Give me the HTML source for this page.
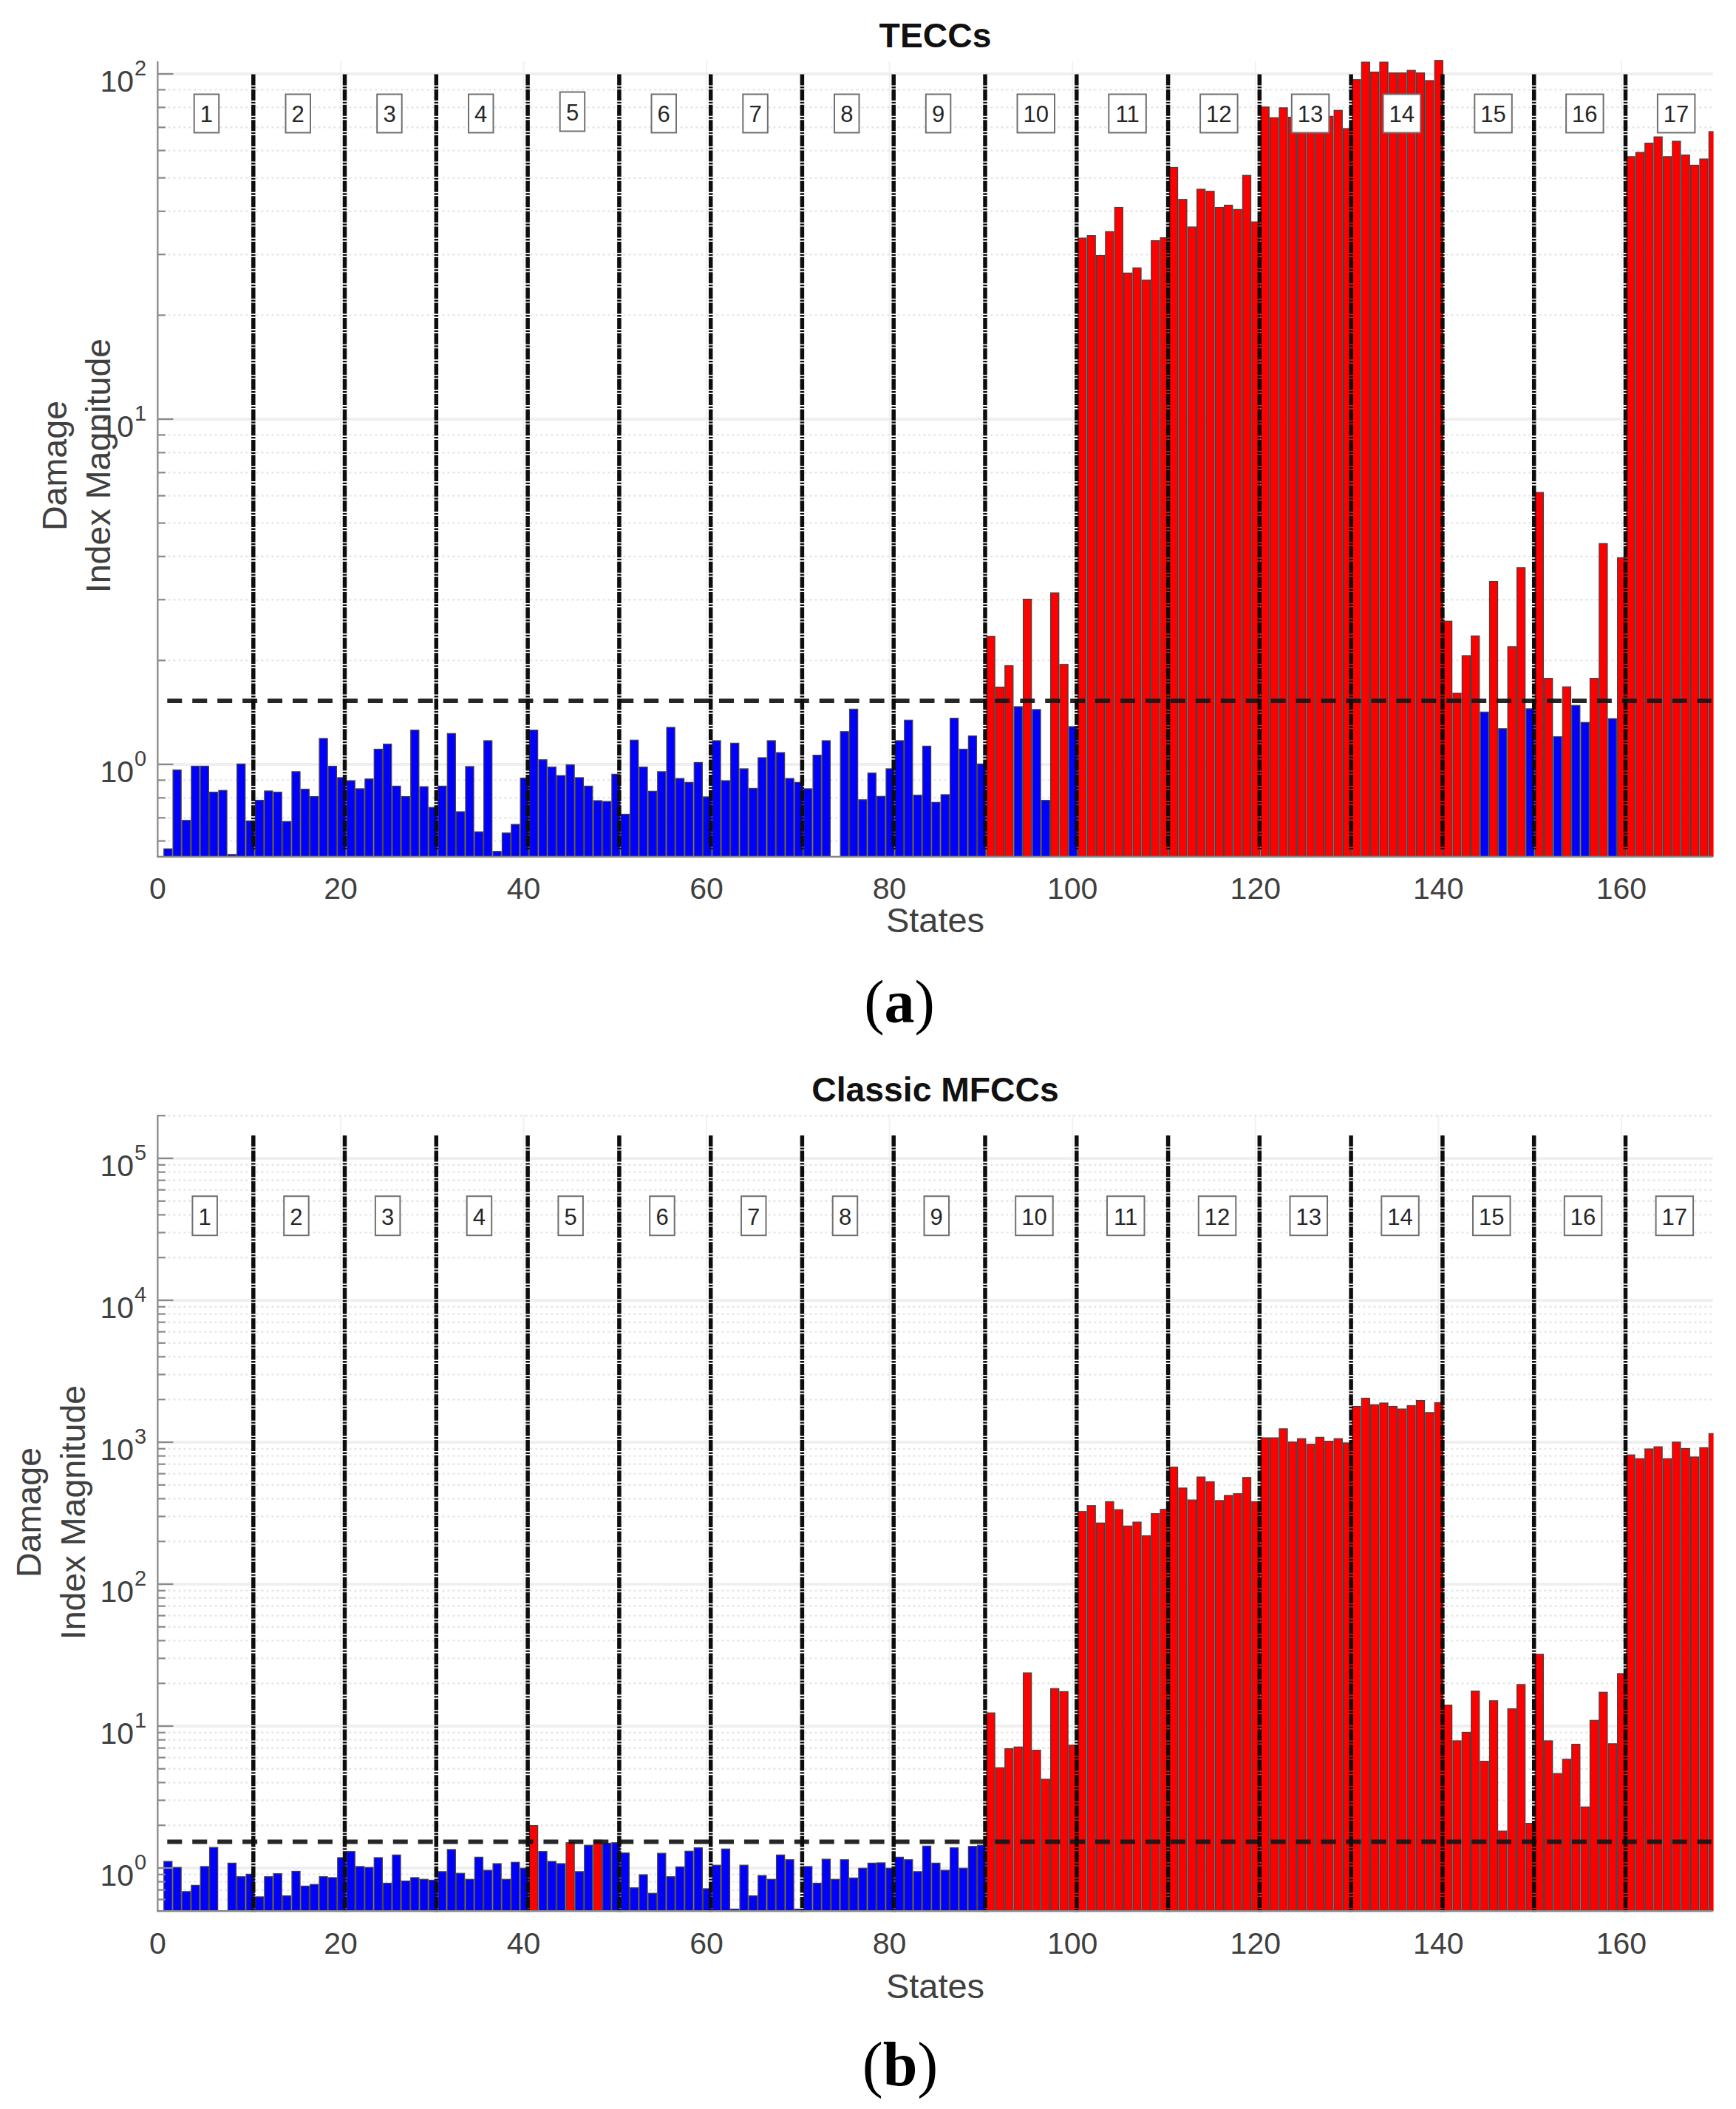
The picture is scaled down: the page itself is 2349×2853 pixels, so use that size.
<!DOCTYPE html>
<html lang="en">
<head>
<meta charset="utf-8">
<title>Damage Index Magnitude - TECCs vs Classic MFCCs</title>
<style>
html,body{margin:0;padding:0;background:#ffffff;}
body{width:2349px;height:2853px;overflow:hidden;}
svg{display:block;}
</style>
</head>
<body>
<svg width="2349" height="2853" viewBox="0 0 2349 2853">
<rect x="0" y="0" width="2349" height="2853" fill="#ffffff"/>
<g id="chart1">
<clipPath id="clip1"><rect x="213.4" y="81.0" width="2105.2" height="1078.0"/></clipPath>
<line x1="461.0" y1="83.0" x2="461.0" y2="1159.0" stroke="#f1f1f1" stroke-width="2"/>
<line x1="708.5" y1="83.0" x2="708.5" y2="1159.0" stroke="#f1f1f1" stroke-width="2"/>
<line x1="956.1" y1="83.0" x2="956.1" y2="1159.0" stroke="#f1f1f1" stroke-width="2"/>
<line x1="1203.6" y1="83.0" x2="1203.6" y2="1159.0" stroke="#f1f1f1" stroke-width="2"/>
<line x1="1451.2" y1="83.0" x2="1451.2" y2="1159.0" stroke="#f1f1f1" stroke-width="2"/>
<line x1="1698.8" y1="83.0" x2="1698.8" y2="1159.0" stroke="#f1f1f1" stroke-width="2"/>
<line x1="1946.3" y1="83.0" x2="1946.3" y2="1159.0" stroke="#f1f1f1" stroke-width="2"/>
<line x1="2193.9" y1="83.0" x2="2193.9" y2="1159.0" stroke="#f1f1f1" stroke-width="2"/>
<line x1="213.4" y1="1137.6" x2="2317.7" y2="1137.6" stroke="#e6e6e6" stroke-width="2.4" stroke-dasharray="3 4"/>
<line x1="213.4" y1="1106.3" x2="2317.7" y2="1106.3" stroke="#e6e6e6" stroke-width="2.4" stroke-dasharray="3 4"/>
<line x1="213.4" y1="1079.3" x2="2317.7" y2="1079.3" stroke="#e6e6e6" stroke-width="2.4" stroke-dasharray="3 4"/>
<line x1="213.4" y1="1055.4" x2="2317.7" y2="1055.4" stroke="#e6e6e6" stroke-width="2.4" stroke-dasharray="3 4"/>
<line x1="213.4" y1="1034.0" x2="2317.7" y2="1034.0" stroke="#efefef" stroke-width="4"/>
<line x1="213.4" y1="893.4" x2="2317.7" y2="893.4" stroke="#e6e6e6" stroke-width="2.4" stroke-dasharray="3 4"/>
<line x1="213.4" y1="811.2" x2="2317.7" y2="811.2" stroke="#e6e6e6" stroke-width="2.4" stroke-dasharray="3 4"/>
<line x1="213.4" y1="752.8" x2="2317.7" y2="752.8" stroke="#e6e6e6" stroke-width="2.4" stroke-dasharray="3 4"/>
<line x1="213.4" y1="707.6" x2="2317.7" y2="707.6" stroke="#e6e6e6" stroke-width="2.4" stroke-dasharray="3 4"/>
<line x1="213.4" y1="670.6" x2="2317.7" y2="670.6" stroke="#e6e6e6" stroke-width="2.4" stroke-dasharray="3 4"/>
<line x1="213.4" y1="639.3" x2="2317.7" y2="639.3" stroke="#e6e6e6" stroke-width="2.4" stroke-dasharray="3 4"/>
<line x1="213.4" y1="612.3" x2="2317.7" y2="612.3" stroke="#e6e6e6" stroke-width="2.4" stroke-dasharray="3 4"/>
<line x1="213.4" y1="588.4" x2="2317.7" y2="588.4" stroke="#e6e6e6" stroke-width="2.4" stroke-dasharray="3 4"/>
<line x1="213.4" y1="567.0" x2="2317.7" y2="567.0" stroke="#efefef" stroke-width="4"/>
<line x1="213.4" y1="426.4" x2="2317.7" y2="426.4" stroke="#e6e6e6" stroke-width="2.4" stroke-dasharray="3 4"/>
<line x1="213.4" y1="344.2" x2="2317.7" y2="344.2" stroke="#e6e6e6" stroke-width="2.4" stroke-dasharray="3 4"/>
<line x1="213.4" y1="285.8" x2="2317.7" y2="285.8" stroke="#e6e6e6" stroke-width="2.4" stroke-dasharray="3 4"/>
<line x1="213.4" y1="240.6" x2="2317.7" y2="240.6" stroke="#e6e6e6" stroke-width="2.4" stroke-dasharray="3 4"/>
<line x1="213.4" y1="203.6" x2="2317.7" y2="203.6" stroke="#e6e6e6" stroke-width="2.4" stroke-dasharray="3 4"/>
<line x1="213.4" y1="172.3" x2="2317.7" y2="172.3" stroke="#e6e6e6" stroke-width="2.4" stroke-dasharray="3 4"/>
<line x1="213.4" y1="145.3" x2="2317.7" y2="145.3" stroke="#e6e6e6" stroke-width="2.4" stroke-dasharray="3 4"/>
<line x1="213.4" y1="121.4" x2="2317.7" y2="121.4" stroke="#e6e6e6" stroke-width="2.4" stroke-dasharray="3 4"/>
<line x1="213.4" y1="100.0" x2="2317.7" y2="100.0" stroke="#efefef" stroke-width="4"/>
<g clip-path="url(#clip1)" stroke="#454040" stroke-width="1.3">
<rect x="221.8" y="1148.3" width="11.0" height="15.3" fill="#0000ff"/>
<rect x="234.1" y="1041.6" width="11.0" height="122.0" fill="#0000ff"/>
<rect x="246.5" y="1109.8" width="11.0" height="53.8" fill="#0000ff"/>
<rect x="258.9" y="1036.5" width="11.0" height="127.1" fill="#0000ff"/>
<rect x="271.3" y="1036.5" width="11.0" height="127.1" fill="#0000ff"/>
<rect x="283.6" y="1071.6" width="11.0" height="92.0" fill="#0000ff"/>
<rect x="296.0" y="1069.3" width="11.0" height="94.3" fill="#0000ff"/>
<rect x="308.4" y="1155.9" width="11.0" height="7.7" fill="#0000ff"/>
<rect x="320.7" y="1033.6" width="11.0" height="130.0" fill="#0000ff"/>
<rect x="333.1" y="1110.6" width="11.0" height="53.0" fill="#0000ff"/>
<rect x="345.5" y="1082.6" width="11.0" height="81.0" fill="#0000ff"/>
<rect x="357.9" y="1070.0" width="11.0" height="93.6" fill="#0000ff"/>
<rect x="370.2" y="1071.6" width="11.0" height="92.0" fill="#0000ff"/>
<rect x="382.6" y="1111.4" width="11.0" height="52.2" fill="#0000ff"/>
<rect x="395.0" y="1043.9" width="11.0" height="119.7" fill="#0000ff"/>
<rect x="407.3" y="1067.6" width="11.0" height="96.0" fill="#0000ff"/>
<rect x="419.7" y="1077.6" width="11.0" height="86.0" fill="#0000ff"/>
<rect x="432.1" y="999.0" width="11.0" height="164.6" fill="#0000ff"/>
<rect x="444.4" y="1036.6" width="11.0" height="127.0" fill="#0000ff"/>
<rect x="456.8" y="1052.0" width="11.0" height="111.6" fill="#0000ff"/>
<rect x="469.2" y="1056.1" width="11.0" height="107.5" fill="#0000ff"/>
<rect x="481.6" y="1067.0" width="11.0" height="96.6" fill="#0000ff"/>
<rect x="493.9" y="1053.8" width="11.0" height="109.8" fill="#0000ff"/>
<rect x="506.3" y="1013.5" width="11.0" height="150.1" fill="#0000ff"/>
<rect x="518.7" y="1006.6" width="11.0" height="157.0" fill="#0000ff"/>
<rect x="531.0" y="1063.5" width="11.0" height="100.1" fill="#0000ff"/>
<rect x="543.4" y="1077.6" width="11.0" height="86.0" fill="#0000ff"/>
<rect x="555.8" y="987.7" width="11.0" height="175.9" fill="#0000ff"/>
<rect x="568.1" y="1064.2" width="11.0" height="99.4" fill="#0000ff"/>
<rect x="580.5" y="1092.3" width="11.0" height="71.3" fill="#0000ff"/>
<rect x="592.9" y="1063.5" width="11.0" height="100.1" fill="#0000ff"/>
<rect x="605.3" y="992.3" width="11.0" height="171.3" fill="#0000ff"/>
<rect x="617.6" y="1098.1" width="11.0" height="65.5" fill="#0000ff"/>
<rect x="630.0" y="1037.0" width="11.0" height="126.6" fill="#0000ff"/>
<rect x="642.4" y="1125.3" width="11.0" height="38.3" fill="#0000ff"/>
<rect x="654.7" y="1002.0" width="11.0" height="161.6" fill="#0000ff"/>
<rect x="667.1" y="1151.8" width="11.0" height="11.8" fill="#0000ff"/>
<rect x="679.5" y="1126.9" width="11.0" height="36.7" fill="#0000ff"/>
<rect x="691.8" y="1115.3" width="11.0" height="48.3" fill="#0000ff"/>
<rect x="704.2" y="1052.6" width="11.0" height="111.0" fill="#0000ff"/>
<rect x="716.6" y="987.7" width="11.0" height="175.9" fill="#0000ff"/>
<rect x="729.0" y="1027.8" width="11.0" height="135.8" fill="#0000ff"/>
<rect x="741.3" y="1037.7" width="11.0" height="125.9" fill="#0000ff"/>
<rect x="753.7" y="1049.2" width="11.0" height="114.4" fill="#0000ff"/>
<rect x="766.1" y="1034.7" width="11.0" height="128.9" fill="#0000ff"/>
<rect x="778.4" y="1052.0" width="11.0" height="111.6" fill="#0000ff"/>
<rect x="790.8" y="1063.5" width="11.0" height="100.1" fill="#0000ff"/>
<rect x="803.2" y="1083.1" width="11.0" height="80.5" fill="#0000ff"/>
<rect x="815.6" y="1084.2" width="11.0" height="79.4" fill="#0000ff"/>
<rect x="827.9" y="1047.4" width="11.0" height="116.2" fill="#0000ff"/>
<rect x="840.3" y="1101.5" width="11.0" height="62.1" fill="#0000ff"/>
<rect x="852.7" y="1001.3" width="11.0" height="162.3" fill="#0000ff"/>
<rect x="865.0" y="1037.7" width="11.0" height="125.9" fill="#0000ff"/>
<rect x="877.4" y="1070.4" width="11.0" height="93.2" fill="#0000ff"/>
<rect x="889.8" y="1043.9" width="11.0" height="119.7" fill="#0000ff"/>
<rect x="902.1" y="984.0" width="11.0" height="179.6" fill="#0000ff"/>
<rect x="914.5" y="1053.1" width="11.0" height="110.5" fill="#0000ff"/>
<rect x="926.9" y="1058.4" width="11.0" height="105.2" fill="#0000ff"/>
<rect x="939.3" y="1031.5" width="11.0" height="132.1" fill="#0000ff"/>
<rect x="951.6" y="1078.0" width="11.0" height="85.6" fill="#0000ff"/>
<rect x="964.0" y="1002.0" width="11.0" height="161.6" fill="#0000ff"/>
<rect x="976.4" y="1056.1" width="11.0" height="107.5" fill="#0000ff"/>
<rect x="988.7" y="1005.4" width="11.0" height="158.2" fill="#0000ff"/>
<rect x="1001.1" y="1040.0" width="11.0" height="123.6" fill="#0000ff"/>
<rect x="1013.5" y="1066.5" width="11.0" height="97.1" fill="#0000ff"/>
<rect x="1025.8" y="1025.0" width="11.0" height="138.6" fill="#0000ff"/>
<rect x="1038.2" y="1002.0" width="11.0" height="161.6" fill="#0000ff"/>
<rect x="1050.6" y="1018.1" width="11.0" height="145.5" fill="#0000ff"/>
<rect x="1063.0" y="1053.1" width="11.0" height="110.5" fill="#0000ff"/>
<rect x="1075.3" y="1058.4" width="11.0" height="105.2" fill="#0000ff"/>
<rect x="1087.7" y="1067.0" width="11.0" height="96.6" fill="#0000ff"/>
<rect x="1100.1" y="1021.6" width="11.0" height="142.0" fill="#0000ff"/>
<rect x="1112.4" y="1002.0" width="11.0" height="161.6" fill="#0000ff"/>
<rect x="1137.2" y="989.8" width="11.0" height="173.8" fill="#0000ff"/>
<rect x="1149.6" y="959.4" width="11.0" height="204.2" fill="#0000ff"/>
<rect x="1161.9" y="1081.9" width="11.0" height="81.7" fill="#0000ff"/>
<rect x="1174.3" y="1045.8" width="11.0" height="117.8" fill="#0000ff"/>
<rect x="1186.7" y="1077.3" width="11.0" height="86.3" fill="#0000ff"/>
<rect x="1199.0" y="1040.0" width="11.0" height="123.6" fill="#0000ff"/>
<rect x="1211.4" y="1002.0" width="11.0" height="161.6" fill="#0000ff"/>
<rect x="1223.8" y="974.3" width="11.0" height="189.3" fill="#0000ff"/>
<rect x="1236.1" y="1075.7" width="11.0" height="87.9" fill="#0000ff"/>
<rect x="1248.5" y="1009.4" width="11.0" height="154.2" fill="#0000ff"/>
<rect x="1260.9" y="1085.4" width="11.0" height="78.2" fill="#0000ff"/>
<rect x="1273.3" y="1075.0" width="11.0" height="88.6" fill="#0000ff"/>
<rect x="1285.6" y="971.6" width="11.0" height="192.0" fill="#0000ff"/>
<rect x="1298.0" y="1013.5" width="11.0" height="150.1" fill="#0000ff"/>
<rect x="1310.4" y="995.5" width="11.0" height="168.1" fill="#0000ff"/>
<rect x="1322.7" y="1033.6" width="11.0" height="130.0" fill="#0000ff"/>
<rect x="1335.1" y="860.8" width="11.0" height="302.8" fill="#ff0000"/>
<rect x="1347.5" y="929.5" width="11.0" height="234.1" fill="#ff0000"/>
<rect x="1359.8" y="900.5" width="11.0" height="263.1" fill="#ff0000"/>
<rect x="1372.2" y="956.0" width="11.0" height="207.6" fill="#0000ff"/>
<rect x="1384.6" y="810.6" width="11.0" height="353.0" fill="#ff0000"/>
<rect x="1397.0" y="959.9" width="11.0" height="203.7" fill="#0000ff"/>
<rect x="1409.3" y="1082.7" width="11.0" height="80.9" fill="#0000ff"/>
<rect x="1421.7" y="802.1" width="11.0" height="361.5" fill="#ff0000"/>
<rect x="1434.1" y="898.8" width="11.0" height="264.8" fill="#ff0000"/>
<rect x="1446.4" y="983.0" width="11.0" height="180.6" fill="#0000ff"/>
<rect x="1458.8" y="322.1" width="11.0" height="841.5" fill="#ff0000"/>
<rect x="1471.2" y="318.7" width="11.0" height="844.9" fill="#ff0000"/>
<rect x="1483.5" y="345.6" width="11.0" height="818.0" fill="#ff0000"/>
<rect x="1495.9" y="313.4" width="11.0" height="850.2" fill="#ff0000"/>
<rect x="1508.3" y="280.6" width="11.0" height="883.0" fill="#ff0000"/>
<rect x="1520.7" y="369.4" width="11.0" height="794.2" fill="#ff0000"/>
<rect x="1533.0" y="362.4" width="11.0" height="801.2" fill="#ff0000"/>
<rect x="1545.4" y="379.0" width="11.0" height="784.6" fill="#ff0000"/>
<rect x="1557.8" y="325.6" width="11.0" height="838.0" fill="#ff0000"/>
<rect x="1570.1" y="321.6" width="11.0" height="842.0" fill="#ff0000"/>
<rect x="1582.5" y="226.5" width="11.0" height="937.1" fill="#ff0000"/>
<rect x="1594.9" y="269.8" width="11.0" height="893.8" fill="#ff0000"/>
<rect x="1607.3" y="307.1" width="11.0" height="856.5" fill="#ff0000"/>
<rect x="1619.6" y="256.0" width="11.0" height="907.6" fill="#ff0000"/>
<rect x="1632.0" y="258.8" width="11.0" height="904.8" fill="#ff0000"/>
<rect x="1644.4" y="280.6" width="11.0" height="883.0" fill="#ff0000"/>
<rect x="1656.7" y="277.6" width="11.0" height="886.0" fill="#ff0000"/>
<rect x="1669.1" y="283.4" width="11.0" height="880.2" fill="#ff0000"/>
<rect x="1681.5" y="237.3" width="11.0" height="926.3" fill="#ff0000"/>
<rect x="1693.8" y="300.2" width="11.0" height="863.4" fill="#ff0000"/>
<rect x="1706.2" y="144.7" width="11.0" height="1018.9" fill="#ff0000"/>
<rect x="1718.6" y="159.2" width="11.0" height="1004.4" fill="#ff0000"/>
<rect x="1731.0" y="145.9" width="11.0" height="1017.7" fill="#ff0000"/>
<rect x="1743.3" y="158.6" width="11.0" height="1005.0" fill="#ff0000"/>
<rect x="1755.7" y="150.6" width="11.0" height="1013.0" fill="#ff0000"/>
<rect x="1768.1" y="155.6" width="11.0" height="1008.0" fill="#ff0000"/>
<rect x="1780.4" y="150.6" width="11.0" height="1013.0" fill="#ff0000"/>
<rect x="1792.8" y="157.4" width="11.0" height="1006.2" fill="#ff0000"/>
<rect x="1805.2" y="149.3" width="11.0" height="1014.3" fill="#ff0000"/>
<rect x="1817.5" y="174.0" width="11.0" height="989.6" fill="#ff0000"/>
<rect x="1829.9" y="107.8" width="11.0" height="1055.8" fill="#ff0000"/>
<rect x="1842.3" y="84.1" width="11.0" height="1079.5" fill="#ff0000"/>
<rect x="1854.7" y="97.5" width="11.0" height="1066.1" fill="#ff0000"/>
<rect x="1867.0" y="84.1" width="11.0" height="1079.5" fill="#ff0000"/>
<rect x="1879.4" y="98.6" width="11.0" height="1065.0" fill="#ff0000"/>
<rect x="1891.8" y="98.6" width="11.0" height="1065.0" fill="#ff0000"/>
<rect x="1904.1" y="95.2" width="11.0" height="1068.4" fill="#ff0000"/>
<rect x="1916.5" y="98.6" width="11.0" height="1065.0" fill="#ff0000"/>
<rect x="1928.9" y="109.0" width="11.0" height="1054.6" fill="#ff0000"/>
<rect x="1941.3" y="81.8" width="11.0" height="1081.8" fill="#ff0000"/>
<rect x="1953.6" y="840.3" width="11.0" height="323.3" fill="#ff0000"/>
<rect x="1966.0" y="937.7" width="11.0" height="225.9" fill="#ff0000"/>
<rect x="1978.4" y="887.0" width="11.0" height="276.6" fill="#ff0000"/>
<rect x="1990.7" y="860.3" width="11.0" height="303.3" fill="#ff0000"/>
<rect x="2003.1" y="963.3" width="11.0" height="200.3" fill="#0000ff"/>
<rect x="2015.5" y="786.6" width="11.0" height="377.0" fill="#ff0000"/>
<rect x="2027.8" y="985.8" width="11.0" height="177.8" fill="#0000ff"/>
<rect x="2040.2" y="874.9" width="11.0" height="288.7" fill="#ff0000"/>
<rect x="2052.6" y="767.9" width="11.0" height="395.7" fill="#ff0000"/>
<rect x="2065.0" y="958.9" width="11.0" height="204.7" fill="#0000ff"/>
<rect x="2077.3" y="666.2" width="11.0" height="497.4" fill="#ff0000"/>
<rect x="2089.7" y="917.7" width="11.0" height="245.9" fill="#ff0000"/>
<rect x="2102.1" y="996.6" width="11.0" height="167.0" fill="#0000ff"/>
<rect x="2114.4" y="929.2" width="11.0" height="234.4" fill="#ff0000"/>
<rect x="2126.8" y="954.3" width="11.0" height="209.3" fill="#0000ff"/>
<rect x="2139.2" y="977.3" width="11.0" height="186.3" fill="#0000ff"/>
<rect x="2151.5" y="917.7" width="11.0" height="245.9" fill="#ff0000"/>
<rect x="2163.9" y="735.4" width="11.0" height="428.2" fill="#ff0000"/>
<rect x="2176.3" y="972.2" width="11.0" height="191.4" fill="#0000ff"/>
<rect x="2188.7" y="754.6" width="11.0" height="409.0" fill="#ff0000"/>
<rect x="2201.0" y="211.9" width="11.0" height="951.7" fill="#ff0000"/>
<rect x="2213.4" y="206.2" width="11.0" height="957.4" fill="#ff0000"/>
<rect x="2225.8" y="193.7" width="11.0" height="969.9" fill="#ff0000"/>
<rect x="2238.1" y="185.2" width="11.0" height="978.4" fill="#ff0000"/>
<rect x="2250.5" y="211.9" width="11.0" height="951.7" fill="#ff0000"/>
<rect x="2262.9" y="191.1" width="11.0" height="972.5" fill="#ff0000"/>
<rect x="2275.2" y="209.8" width="11.0" height="953.8" fill="#ff0000"/>
<rect x="2287.6" y="223.5" width="11.0" height="940.1" fill="#ff0000"/>
<rect x="2300.0" y="215.1" width="11.0" height="948.5" fill="#ff0000"/>
<rect x="2312.4" y="178.1" width="11.0" height="985.5" fill="#ff0000"/>
</g>
<line x1="226.3" y1="948.0" x2="2315.7" y2="948.0" stroke="#151515" stroke-opacity="0.93" stroke-width="6" stroke-dasharray="20 13.94"/>
<line x1="342.8" y1="100.5" x2="342.8" y2="1149.0" stroke="#0d0d0d" stroke-width="5.5" stroke-dasharray="15 1.6 2.4 1.6"/>
<line x1="466.5" y1="100.5" x2="466.5" y2="1149.0" stroke="#0d0d0d" stroke-width="5.5" stroke-dasharray="15 1.6 2.4 1.6"/>
<line x1="590.3" y1="100.5" x2="590.3" y2="1149.0" stroke="#0d0d0d" stroke-width="5.5" stroke-dasharray="15 1.6 2.4 1.6"/>
<line x1="714.1" y1="100.5" x2="714.1" y2="1149.0" stroke="#0d0d0d" stroke-width="5.5" stroke-dasharray="15 1.6 2.4 1.6"/>
<line x1="837.9" y1="100.5" x2="837.9" y2="1149.0" stroke="#0d0d0d" stroke-width="5.5" stroke-dasharray="15 1.6 2.4 1.6"/>
<line x1="961.7" y1="100.5" x2="961.7" y2="1149.0" stroke="#0d0d0d" stroke-width="5.5" stroke-dasharray="15 1.6 2.4 1.6"/>
<line x1="1085.4" y1="100.5" x2="1085.4" y2="1149.0" stroke="#0d0d0d" stroke-width="5.5" stroke-dasharray="15 1.6 2.4 1.6"/>
<line x1="1209.2" y1="100.5" x2="1209.2" y2="1149.0" stroke="#0d0d0d" stroke-width="5.5" stroke-dasharray="15 1.6 2.4 1.6"/>
<line x1="1333.0" y1="100.5" x2="1333.0" y2="1149.0" stroke="#0d0d0d" stroke-width="5.5" stroke-dasharray="15 1.6 2.4 1.6"/>
<line x1="1456.8" y1="100.5" x2="1456.8" y2="1149.0" stroke="#0d0d0d" stroke-width="5.5" stroke-dasharray="15 1.6 2.4 1.6"/>
<line x1="1580.6" y1="100.5" x2="1580.6" y2="1149.0" stroke="#0d0d0d" stroke-width="5.5" stroke-dasharray="15 1.6 2.4 1.6"/>
<line x1="1704.3" y1="100.5" x2="1704.3" y2="1149.0" stroke="#0d0d0d" stroke-width="5.5" stroke-dasharray="15 1.6 2.4 1.6"/>
<line x1="1828.1" y1="100.5" x2="1828.1" y2="1149.0" stroke="#0d0d0d" stroke-width="5.5" stroke-dasharray="15 1.6 2.4 1.6"/>
<line x1="1951.9" y1="100.5" x2="1951.9" y2="1149.0" stroke="#0d0d0d" stroke-width="5.5" stroke-dasharray="15 1.6 2.4 1.6"/>
<line x1="2075.7" y1="100.5" x2="2075.7" y2="1149.0" stroke="#0d0d0d" stroke-width="5.5" stroke-dasharray="15 1.6 2.4 1.6"/>
<line x1="2199.5" y1="100.5" x2="2199.5" y2="1149.0" stroke="#0d0d0d" stroke-width="5.5" stroke-dasharray="15 1.6 2.4 1.6"/>
<line x1="213.4" y1="83.0" x2="213.4" y2="1160.0" stroke="#858585" stroke-width="2.2"/>
<line x1="212.4" y1="1159.0" x2="2317.7" y2="1159.0" stroke="#858585" stroke-width="2.6"/>
<line x1="213.4" y1="1137.6" x2="223.9" y2="1137.6" stroke="#8a8a8a" stroke-width="2.2"/>
<line x1="213.4" y1="1106.3" x2="223.9" y2="1106.3" stroke="#8a8a8a" stroke-width="2.2"/>
<line x1="213.4" y1="1079.3" x2="223.9" y2="1079.3" stroke="#8a8a8a" stroke-width="2.2"/>
<line x1="213.4" y1="1055.4" x2="223.9" y2="1055.4" stroke="#8a8a8a" stroke-width="2.2"/>
<line x1="213.4" y1="1034.0" x2="234.4" y2="1034.0" stroke="#8a8a8a" stroke-width="2.2"/>
<line x1="213.4" y1="893.4" x2="223.9" y2="893.4" stroke="#8a8a8a" stroke-width="2.2"/>
<line x1="213.4" y1="811.2" x2="223.9" y2="811.2" stroke="#8a8a8a" stroke-width="2.2"/>
<line x1="213.4" y1="752.8" x2="223.9" y2="752.8" stroke="#8a8a8a" stroke-width="2.2"/>
<line x1="213.4" y1="707.6" x2="223.9" y2="707.6" stroke="#8a8a8a" stroke-width="2.2"/>
<line x1="213.4" y1="670.6" x2="223.9" y2="670.6" stroke="#8a8a8a" stroke-width="2.2"/>
<line x1="213.4" y1="639.3" x2="223.9" y2="639.3" stroke="#8a8a8a" stroke-width="2.2"/>
<line x1="213.4" y1="612.3" x2="223.9" y2="612.3" stroke="#8a8a8a" stroke-width="2.2"/>
<line x1="213.4" y1="588.4" x2="223.9" y2="588.4" stroke="#8a8a8a" stroke-width="2.2"/>
<line x1="213.4" y1="567.0" x2="234.4" y2="567.0" stroke="#8a8a8a" stroke-width="2.2"/>
<line x1="213.4" y1="426.4" x2="223.9" y2="426.4" stroke="#8a8a8a" stroke-width="2.2"/>
<line x1="213.4" y1="344.2" x2="223.9" y2="344.2" stroke="#8a8a8a" stroke-width="2.2"/>
<line x1="213.4" y1="285.8" x2="223.9" y2="285.8" stroke="#8a8a8a" stroke-width="2.2"/>
<line x1="213.4" y1="240.6" x2="223.9" y2="240.6" stroke="#8a8a8a" stroke-width="2.2"/>
<line x1="213.4" y1="203.6" x2="223.9" y2="203.6" stroke="#8a8a8a" stroke-width="2.2"/>
<line x1="213.4" y1="172.3" x2="223.9" y2="172.3" stroke="#8a8a8a" stroke-width="2.2"/>
<line x1="213.4" y1="145.3" x2="223.9" y2="145.3" stroke="#8a8a8a" stroke-width="2.2"/>
<line x1="213.4" y1="121.4" x2="223.9" y2="121.4" stroke="#8a8a8a" stroke-width="2.2"/>
<line x1="213.4" y1="100.0" x2="234.4" y2="100.0" stroke="#8a8a8a" stroke-width="2.2"/>
<text x="181" y="1058.0" text-anchor="end" font-family="'Liberation Sans', Arial, sans-serif" font-size="41" fill="#404040">10</text>
<text x="182" y="1036.0" text-anchor="start" font-family="'Liberation Sans', Arial, sans-serif" font-size="29" fill="#404040">0</text>
<text x="181" y="591.0" text-anchor="end" font-family="'Liberation Sans', Arial, sans-serif" font-size="41" fill="#404040">10</text>
<text x="182" y="569.0" text-anchor="start" font-family="'Liberation Sans', Arial, sans-serif" font-size="29" fill="#404040">1</text>
<text x="181" y="124.0" text-anchor="end" font-family="'Liberation Sans', Arial, sans-serif" font-size="41" fill="#404040">10</text>
<text x="182" y="102.0" text-anchor="start" font-family="'Liberation Sans', Arial, sans-serif" font-size="29" fill="#404040">2</text>
<text x="213.4" y="1216.0" text-anchor="middle" font-family="'Liberation Sans', Arial, sans-serif" font-size="41" fill="#404040">0</text>
<text x="461.0" y="1216.0" text-anchor="middle" font-family="'Liberation Sans', Arial, sans-serif" font-size="41" fill="#404040">20</text>
<text x="708.5" y="1216.0" text-anchor="middle" font-family="'Liberation Sans', Arial, sans-serif" font-size="41" fill="#404040">40</text>
<text x="956.1" y="1216.0" text-anchor="middle" font-family="'Liberation Sans', Arial, sans-serif" font-size="41" fill="#404040">60</text>
<text x="1203.6" y="1216.0" text-anchor="middle" font-family="'Liberation Sans', Arial, sans-serif" font-size="41" fill="#404040">80</text>
<text x="1451.2" y="1216.0" text-anchor="middle" font-family="'Liberation Sans', Arial, sans-serif" font-size="41" fill="#404040">100</text>
<text x="1698.8" y="1216.0" text-anchor="middle" font-family="'Liberation Sans', Arial, sans-serif" font-size="41" fill="#404040">120</text>
<text x="1946.3" y="1216.0" text-anchor="middle" font-family="'Liberation Sans', Arial, sans-serif" font-size="41" fill="#404040">140</text>
<text x="2193.9" y="1216.0" text-anchor="middle" font-family="'Liberation Sans', Arial, sans-serif" font-size="41" fill="#404040">160</text>
<text x="1265.5" y="1260.5" text-anchor="middle" font-family="'Liberation Sans', Arial, sans-serif" font-size="47" fill="#404040">States</text>
<text transform="translate(90.0,630.0) rotate(-90)" text-anchor="middle" font-family="'Liberation Sans', Arial, sans-serif" font-size="46.6" fill="#404040">Damage</text>
<text transform="translate(149.0,630.0) rotate(-90)" text-anchor="middle" font-family="'Liberation Sans', Arial, sans-serif" font-size="46.6" fill="#404040">Index Magnitude</text>
<text x="1265.5" y="63.5" text-anchor="middle" font-family="'Liberation Sans', Arial, sans-serif" font-size="46.3" font-weight="bold" fill="#111111">TECCs</text>
<rect x="262.7" y="127.5" width="33.5" height="52.0" fill="#ffffff" stroke="#707070" stroke-width="2"/>
<text x="279.4" y="165.0" text-anchor="middle" font-family="'Liberation Sans', Arial, sans-serif" font-size="31" fill="#262626">1</text>
<rect x="386.5" y="127.5" width="33.5" height="52.0" fill="#ffffff" stroke="#707070" stroke-width="2"/>
<text x="403.2" y="165.0" text-anchor="middle" font-family="'Liberation Sans', Arial, sans-serif" font-size="31" fill="#262626">2</text>
<rect x="510.2" y="127.5" width="33.5" height="52.0" fill="#ffffff" stroke="#707070" stroke-width="2"/>
<text x="527.0" y="165.0" text-anchor="middle" font-family="'Liberation Sans', Arial, sans-serif" font-size="31" fill="#262626">3</text>
<rect x="634.0" y="127.5" width="33.5" height="52.0" fill="#ffffff" stroke="#707070" stroke-width="2"/>
<text x="650.7" y="165.0" text-anchor="middle" font-family="'Liberation Sans', Arial, sans-serif" font-size="31" fill="#262626">4</text>
<rect x="757.7" y="124.5" width="33.5" height="53.0" fill="#ffffff" stroke="#707070" stroke-width="2"/>
<text x="774.5" y="163.0" text-anchor="middle" font-family="'Liberation Sans', Arial, sans-serif" font-size="31" fill="#262626">5</text>
<rect x="881.5" y="127.5" width="33.5" height="52.0" fill="#ffffff" stroke="#707070" stroke-width="2"/>
<text x="898.2" y="165.0" text-anchor="middle" font-family="'Liberation Sans', Arial, sans-serif" font-size="31" fill="#262626">6</text>
<rect x="1005.3" y="127.5" width="33.5" height="52.0" fill="#ffffff" stroke="#707070" stroke-width="2"/>
<text x="1022.0" y="165.0" text-anchor="middle" font-family="'Liberation Sans', Arial, sans-serif" font-size="31" fill="#262626">7</text>
<rect x="1129.0" y="127.5" width="33.5" height="52.0" fill="#ffffff" stroke="#707070" stroke-width="2"/>
<text x="1145.8" y="165.0" text-anchor="middle" font-family="'Liberation Sans', Arial, sans-serif" font-size="31" fill="#262626">8</text>
<rect x="1252.8" y="127.5" width="33.5" height="52.0" fill="#ffffff" stroke="#707070" stroke-width="2"/>
<text x="1269.5" y="165.0" text-anchor="middle" font-family="'Liberation Sans', Arial, sans-serif" font-size="31" fill="#262626">9</text>
<rect x="1376.5" y="127.5" width="50.5" height="52.0" fill="#ffffff" stroke="#707070" stroke-width="2"/>
<text x="1401.8" y="165.0" text-anchor="middle" font-family="'Liberation Sans', Arial, sans-serif" font-size="31" fill="#262626">10</text>
<rect x="1500.3" y="127.5" width="50.5" height="52.0" fill="#ffffff" stroke="#707070" stroke-width="2"/>
<text x="1525.6" y="165.0" text-anchor="middle" font-family="'Liberation Sans', Arial, sans-serif" font-size="31" fill="#262626">11</text>
<rect x="1624.1" y="127.5" width="50.5" height="52.0" fill="#ffffff" stroke="#707070" stroke-width="2"/>
<text x="1649.3" y="165.0" text-anchor="middle" font-family="'Liberation Sans', Arial, sans-serif" font-size="31" fill="#262626">12</text>
<rect x="1747.8" y="127.5" width="50.5" height="52.0" fill="#ffffff" stroke="#707070" stroke-width="2"/>
<text x="1773.1" y="165.0" text-anchor="middle" font-family="'Liberation Sans', Arial, sans-serif" font-size="31" fill="#262626">13</text>
<rect x="1871.6" y="127.5" width="50.5" height="52.0" fill="#ffffff" stroke="#707070" stroke-width="2"/>
<text x="1896.8" y="165.0" text-anchor="middle" font-family="'Liberation Sans', Arial, sans-serif" font-size="31" fill="#262626">14</text>
<rect x="1995.3" y="127.5" width="50.5" height="52.0" fill="#ffffff" stroke="#707070" stroke-width="2"/>
<text x="2020.6" y="165.0" text-anchor="middle" font-family="'Liberation Sans', Arial, sans-serif" font-size="31" fill="#262626">15</text>
<rect x="2119.1" y="127.5" width="50.5" height="52.0" fill="#ffffff" stroke="#707070" stroke-width="2"/>
<text x="2144.3" y="165.0" text-anchor="middle" font-family="'Liberation Sans', Arial, sans-serif" font-size="31" fill="#262626">16</text>
<rect x="2242.9" y="127.5" width="50.5" height="52.0" fill="#ffffff" stroke="#707070" stroke-width="2"/>
<text x="2268.1" y="165.0" text-anchor="middle" font-family="'Liberation Sans', Arial, sans-serif" font-size="31" fill="#262626">17</text>
</g>
<g id="chart2">
<clipPath id="clip2"><rect x="213.4" y="1508.0" width="2105.2" height="1077.3"/></clipPath>
<line x1="461.0" y1="1508.3" x2="461.0" y2="2585.3" stroke="#f1f1f1" stroke-width="2"/>
<line x1="708.5" y1="1508.3" x2="708.5" y2="2585.3" stroke="#f1f1f1" stroke-width="2"/>
<line x1="956.1" y1="1508.3" x2="956.1" y2="2585.3" stroke="#f1f1f1" stroke-width="2"/>
<line x1="1203.6" y1="1508.3" x2="1203.6" y2="2585.3" stroke="#f1f1f1" stroke-width="2"/>
<line x1="1451.2" y1="1508.3" x2="1451.2" y2="2585.3" stroke="#f1f1f1" stroke-width="2"/>
<line x1="1698.8" y1="1508.3" x2="1698.8" y2="2585.3" stroke="#f1f1f1" stroke-width="2"/>
<line x1="1946.3" y1="1508.3" x2="1946.3" y2="2585.3" stroke="#f1f1f1" stroke-width="2"/>
<line x1="2193.9" y1="1508.3" x2="2193.9" y2="2585.3" stroke="#f1f1f1" stroke-width="2"/>
<line x1="213.4" y1="2569.6" x2="2317.7" y2="2569.6" stroke="#e6e6e6" stroke-width="2.4" stroke-dasharray="3 4"/>
<line x1="213.4" y1="2556.7" x2="2317.7" y2="2556.7" stroke="#e6e6e6" stroke-width="2.4" stroke-dasharray="3 4"/>
<line x1="213.4" y1="2545.6" x2="2317.7" y2="2545.6" stroke="#e6e6e6" stroke-width="2.4" stroke-dasharray="3 4"/>
<line x1="213.4" y1="2535.8" x2="2317.7" y2="2535.8" stroke="#e6e6e6" stroke-width="2.4" stroke-dasharray="3 4"/>
<line x1="213.4" y1="2527.0" x2="2317.7" y2="2527.0" stroke="#efefef" stroke-width="4"/>
<line x1="213.4" y1="2469.2" x2="2317.7" y2="2469.2" stroke="#e6e6e6" stroke-width="2.4" stroke-dasharray="3 4"/>
<line x1="213.4" y1="2435.4" x2="2317.7" y2="2435.4" stroke="#e6e6e6" stroke-width="2.4" stroke-dasharray="3 4"/>
<line x1="213.4" y1="2411.4" x2="2317.7" y2="2411.4" stroke="#e6e6e6" stroke-width="2.4" stroke-dasharray="3 4"/>
<line x1="213.4" y1="2392.8" x2="2317.7" y2="2392.8" stroke="#e6e6e6" stroke-width="2.4" stroke-dasharray="3 4"/>
<line x1="213.4" y1="2377.6" x2="2317.7" y2="2377.6" stroke="#e6e6e6" stroke-width="2.4" stroke-dasharray="3 4"/>
<line x1="213.4" y1="2364.7" x2="2317.7" y2="2364.7" stroke="#e6e6e6" stroke-width="2.4" stroke-dasharray="3 4"/>
<line x1="213.4" y1="2353.6" x2="2317.7" y2="2353.6" stroke="#e6e6e6" stroke-width="2.4" stroke-dasharray="3 4"/>
<line x1="213.4" y1="2343.8" x2="2317.7" y2="2343.8" stroke="#e6e6e6" stroke-width="2.4" stroke-dasharray="3 4"/>
<line x1="213.4" y1="2335.0" x2="2317.7" y2="2335.0" stroke="#efefef" stroke-width="4"/>
<line x1="213.4" y1="2277.2" x2="2317.7" y2="2277.2" stroke="#e6e6e6" stroke-width="2.4" stroke-dasharray="3 4"/>
<line x1="213.4" y1="2243.4" x2="2317.7" y2="2243.4" stroke="#e6e6e6" stroke-width="2.4" stroke-dasharray="3 4"/>
<line x1="213.4" y1="2219.4" x2="2317.7" y2="2219.4" stroke="#e6e6e6" stroke-width="2.4" stroke-dasharray="3 4"/>
<line x1="213.4" y1="2200.8" x2="2317.7" y2="2200.8" stroke="#e6e6e6" stroke-width="2.4" stroke-dasharray="3 4"/>
<line x1="213.4" y1="2185.6" x2="2317.7" y2="2185.6" stroke="#e6e6e6" stroke-width="2.4" stroke-dasharray="3 4"/>
<line x1="213.4" y1="2172.7" x2="2317.7" y2="2172.7" stroke="#e6e6e6" stroke-width="2.4" stroke-dasharray="3 4"/>
<line x1="213.4" y1="2161.6" x2="2317.7" y2="2161.6" stroke="#e6e6e6" stroke-width="2.4" stroke-dasharray="3 4"/>
<line x1="213.4" y1="2151.8" x2="2317.7" y2="2151.8" stroke="#e6e6e6" stroke-width="2.4" stroke-dasharray="3 4"/>
<line x1="213.4" y1="2143.0" x2="2317.7" y2="2143.0" stroke="#efefef" stroke-width="4"/>
<line x1="213.4" y1="2085.2" x2="2317.7" y2="2085.2" stroke="#e6e6e6" stroke-width="2.4" stroke-dasharray="3 4"/>
<line x1="213.4" y1="2051.4" x2="2317.7" y2="2051.4" stroke="#e6e6e6" stroke-width="2.4" stroke-dasharray="3 4"/>
<line x1="213.4" y1="2027.4" x2="2317.7" y2="2027.4" stroke="#e6e6e6" stroke-width="2.4" stroke-dasharray="3 4"/>
<line x1="213.4" y1="2008.8" x2="2317.7" y2="2008.8" stroke="#e6e6e6" stroke-width="2.4" stroke-dasharray="3 4"/>
<line x1="213.4" y1="1993.6" x2="2317.7" y2="1993.6" stroke="#e6e6e6" stroke-width="2.4" stroke-dasharray="3 4"/>
<line x1="213.4" y1="1980.7" x2="2317.7" y2="1980.7" stroke="#e6e6e6" stroke-width="2.4" stroke-dasharray="3 4"/>
<line x1="213.4" y1="1969.6" x2="2317.7" y2="1969.6" stroke="#e6e6e6" stroke-width="2.4" stroke-dasharray="3 4"/>
<line x1="213.4" y1="1959.8" x2="2317.7" y2="1959.8" stroke="#e6e6e6" stroke-width="2.4" stroke-dasharray="3 4"/>
<line x1="213.4" y1="1951.0" x2="2317.7" y2="1951.0" stroke="#efefef" stroke-width="4"/>
<line x1="213.4" y1="1893.2" x2="2317.7" y2="1893.2" stroke="#e6e6e6" stroke-width="2.4" stroke-dasharray="3 4"/>
<line x1="213.4" y1="1859.4" x2="2317.7" y2="1859.4" stroke="#e6e6e6" stroke-width="2.4" stroke-dasharray="3 4"/>
<line x1="213.4" y1="1835.4" x2="2317.7" y2="1835.4" stroke="#e6e6e6" stroke-width="2.4" stroke-dasharray="3 4"/>
<line x1="213.4" y1="1816.8" x2="2317.7" y2="1816.8" stroke="#e6e6e6" stroke-width="2.4" stroke-dasharray="3 4"/>
<line x1="213.4" y1="1801.6" x2="2317.7" y2="1801.6" stroke="#e6e6e6" stroke-width="2.4" stroke-dasharray="3 4"/>
<line x1="213.4" y1="1788.7" x2="2317.7" y2="1788.7" stroke="#e6e6e6" stroke-width="2.4" stroke-dasharray="3 4"/>
<line x1="213.4" y1="1777.6" x2="2317.7" y2="1777.6" stroke="#e6e6e6" stroke-width="2.4" stroke-dasharray="3 4"/>
<line x1="213.4" y1="1767.8" x2="2317.7" y2="1767.8" stroke="#e6e6e6" stroke-width="2.4" stroke-dasharray="3 4"/>
<line x1="213.4" y1="1759.0" x2="2317.7" y2="1759.0" stroke="#efefef" stroke-width="4"/>
<line x1="213.4" y1="1701.2" x2="2317.7" y2="1701.2" stroke="#e6e6e6" stroke-width="2.4" stroke-dasharray="3 4"/>
<line x1="213.4" y1="1667.4" x2="2317.7" y2="1667.4" stroke="#e6e6e6" stroke-width="2.4" stroke-dasharray="3 4"/>
<line x1="213.4" y1="1643.4" x2="2317.7" y2="1643.4" stroke="#e6e6e6" stroke-width="2.4" stroke-dasharray="3 4"/>
<line x1="213.4" y1="1624.8" x2="2317.7" y2="1624.8" stroke="#e6e6e6" stroke-width="2.4" stroke-dasharray="3 4"/>
<line x1="213.4" y1="1609.6" x2="2317.7" y2="1609.6" stroke="#e6e6e6" stroke-width="2.4" stroke-dasharray="3 4"/>
<line x1="213.4" y1="1596.7" x2="2317.7" y2="1596.7" stroke="#e6e6e6" stroke-width="2.4" stroke-dasharray="3 4"/>
<line x1="213.4" y1="1585.6" x2="2317.7" y2="1585.6" stroke="#e6e6e6" stroke-width="2.4" stroke-dasharray="3 4"/>
<line x1="213.4" y1="1575.8" x2="2317.7" y2="1575.8" stroke="#e6e6e6" stroke-width="2.4" stroke-dasharray="3 4"/>
<line x1="213.4" y1="1567.0" x2="2317.7" y2="1567.0" stroke="#efefef" stroke-width="4"/>
<line x1="213.4" y1="1509.2" x2="2317.7" y2="1509.2" stroke="#e6e6e6" stroke-width="2.4" stroke-dasharray="3 4"/>
<g clip-path="url(#clip2)" stroke="#454040" stroke-width="1.3">
<rect x="221.8" y="2518.1" width="11.0" height="71.8" fill="#0000ff"/>
<rect x="234.1" y="2526.2" width="11.0" height="63.7" fill="#0000ff"/>
<rect x="246.5" y="2558.9" width="11.0" height="31.0" fill="#0000ff"/>
<rect x="258.9" y="2550.4" width="11.0" height="39.5" fill="#0000ff"/>
<rect x="271.3" y="2525.0" width="11.0" height="64.9" fill="#0000ff"/>
<rect x="283.6" y="2499.2" width="11.0" height="90.7" fill="#0000ff"/>
<rect x="308.4" y="2520.4" width="11.0" height="69.5" fill="#0000ff"/>
<rect x="320.7" y="2538.8" width="11.0" height="51.1" fill="#0000ff"/>
<rect x="333.1" y="2535.4" width="11.0" height="54.5" fill="#0000ff"/>
<rect x="345.5" y="2566.0" width="11.0" height="23.9" fill="#0000ff"/>
<rect x="357.9" y="2538.8" width="11.0" height="51.1" fill="#0000ff"/>
<rect x="370.2" y="2534.7" width="11.0" height="55.2" fill="#0000ff"/>
<rect x="382.6" y="2564.7" width="11.0" height="25.2" fill="#0000ff"/>
<rect x="395.0" y="2531.5" width="11.0" height="58.4" fill="#0000ff"/>
<rect x="407.3" y="2551.5" width="11.0" height="38.4" fill="#0000ff"/>
<rect x="419.7" y="2549.2" width="11.0" height="40.7" fill="#0000ff"/>
<rect x="432.1" y="2538.8" width="11.0" height="51.1" fill="#0000ff"/>
<rect x="444.4" y="2540.0" width="11.0" height="49.9" fill="#0000ff"/>
<rect x="456.8" y="2513.0" width="11.0" height="76.9" fill="#0000ff"/>
<rect x="469.2" y="2504.7" width="11.0" height="85.2" fill="#0000ff"/>
<rect x="481.6" y="2525.0" width="11.0" height="64.9" fill="#0000ff"/>
<rect x="493.9" y="2526.2" width="11.0" height="63.7" fill="#0000ff"/>
<rect x="506.3" y="2513.0" width="11.0" height="76.9" fill="#0000ff"/>
<rect x="518.7" y="2547.6" width="11.0" height="42.3" fill="#0000ff"/>
<rect x="531.0" y="2509.4" width="11.0" height="80.5" fill="#0000ff"/>
<rect x="543.4" y="2544.6" width="11.0" height="45.3" fill="#0000ff"/>
<rect x="555.8" y="2540.0" width="11.0" height="49.9" fill="#0000ff"/>
<rect x="568.1" y="2542.3" width="11.0" height="47.6" fill="#0000ff"/>
<rect x="580.5" y="2543.5" width="11.0" height="46.4" fill="#0000ff"/>
<rect x="592.9" y="2531.9" width="11.0" height="58.0" fill="#0000ff"/>
<rect x="605.3" y="2502.0" width="11.0" height="87.9" fill="#0000ff"/>
<rect x="617.6" y="2534.2" width="11.0" height="55.7" fill="#0000ff"/>
<rect x="630.0" y="2542.3" width="11.0" height="47.6" fill="#0000ff"/>
<rect x="642.4" y="2512.4" width="11.0" height="77.5" fill="#0000ff"/>
<rect x="654.7" y="2530.1" width="11.0" height="59.8" fill="#0000ff"/>
<rect x="667.1" y="2521.1" width="11.0" height="68.8" fill="#0000ff"/>
<rect x="679.5" y="2542.3" width="11.0" height="47.6" fill="#0000ff"/>
<rect x="691.8" y="2519.3" width="11.0" height="70.6" fill="#0000ff"/>
<rect x="704.2" y="2527.3" width="11.0" height="62.6" fill="#0000ff"/>
<rect x="716.6" y="2469.7" width="11.0" height="120.2" fill="#ff0000"/>
<rect x="729.0" y="2504.7" width="11.0" height="85.2" fill="#0000ff"/>
<rect x="741.3" y="2518.1" width="11.0" height="71.8" fill="#0000ff"/>
<rect x="753.7" y="2521.1" width="11.0" height="68.8" fill="#0000ff"/>
<rect x="766.1" y="2492.8" width="11.0" height="97.1" fill="#ff0000"/>
<rect x="778.4" y="2531.9" width="11.0" height="58.0" fill="#0000ff"/>
<rect x="790.8" y="2496.2" width="11.0" height="93.7" fill="#0000ff"/>
<rect x="803.2" y="2489.3" width="11.0" height="100.6" fill="#ff0000"/>
<rect x="815.6" y="2493.5" width="11.0" height="96.4" fill="#0000ff"/>
<rect x="827.9" y="2492.8" width="11.0" height="97.1" fill="#0000ff"/>
<rect x="840.3" y="2506.6" width="11.0" height="83.3" fill="#0000ff"/>
<rect x="852.7" y="2553.8" width="11.0" height="36.1" fill="#0000ff"/>
<rect x="865.0" y="2536.1" width="11.0" height="53.8" fill="#0000ff"/>
<rect x="877.4" y="2561.2" width="11.0" height="28.7" fill="#0000ff"/>
<rect x="889.8" y="2507.1" width="11.0" height="82.8" fill="#0000ff"/>
<rect x="902.1" y="2538.8" width="11.0" height="51.1" fill="#0000ff"/>
<rect x="914.5" y="2525.5" width="11.0" height="64.4" fill="#0000ff"/>
<rect x="926.9" y="2504.3" width="11.0" height="85.6" fill="#0000ff"/>
<rect x="939.3" y="2499.7" width="11.0" height="90.2" fill="#0000ff"/>
<rect x="951.6" y="2555.0" width="11.0" height="34.9" fill="#0000ff"/>
<rect x="964.0" y="2523.2" width="11.0" height="66.7" fill="#0000ff"/>
<rect x="976.4" y="2501.3" width="11.0" height="88.6" fill="#0000ff"/>
<rect x="988.7" y="2582.6" width="11.0" height="7.3" fill="#0000ff"/>
<rect x="1001.1" y="2523.2" width="11.0" height="66.7" fill="#0000ff"/>
<rect x="1013.5" y="2564.7" width="11.0" height="25.2" fill="#0000ff"/>
<rect x="1025.8" y="2537.2" width="11.0" height="52.7" fill="#0000ff"/>
<rect x="1038.2" y="2542.3" width="11.0" height="47.6" fill="#0000ff"/>
<rect x="1050.6" y="2509.4" width="11.0" height="80.5" fill="#0000ff"/>
<rect x="1063.0" y="2515.8" width="11.0" height="74.1" fill="#0000ff"/>
<rect x="1075.3" y="2582.6" width="11.0" height="7.3" fill="#0000ff"/>
<rect x="1087.7" y="2525.0" width="11.0" height="64.9" fill="#0000ff"/>
<rect x="1100.1" y="2547.6" width="11.0" height="42.3" fill="#0000ff"/>
<rect x="1112.4" y="2515.1" width="11.0" height="74.8" fill="#0000ff"/>
<rect x="1124.8" y="2542.3" width="11.0" height="47.6" fill="#0000ff"/>
<rect x="1137.2" y="2515.8" width="11.0" height="74.1" fill="#0000ff"/>
<rect x="1149.6" y="2540.5" width="11.0" height="49.4" fill="#0000ff"/>
<rect x="1161.9" y="2527.3" width="11.0" height="62.6" fill="#0000ff"/>
<rect x="1174.3" y="2520.4" width="11.0" height="69.5" fill="#0000ff"/>
<rect x="1186.7" y="2520.0" width="11.0" height="69.9" fill="#0000ff"/>
<rect x="1199.0" y="2527.3" width="11.0" height="62.6" fill="#0000ff"/>
<rect x="1211.4" y="2512.4" width="11.0" height="77.5" fill="#0000ff"/>
<rect x="1223.8" y="2515.8" width="11.0" height="74.1" fill="#0000ff"/>
<rect x="1236.1" y="2531.9" width="11.0" height="58.0" fill="#0000ff"/>
<rect x="1248.5" y="2497.4" width="11.0" height="92.5" fill="#0000ff"/>
<rect x="1260.9" y="2520.4" width="11.0" height="69.5" fill="#0000ff"/>
<rect x="1273.3" y="2530.1" width="11.0" height="59.8" fill="#0000ff"/>
<rect x="1285.6" y="2499.7" width="11.0" height="90.2" fill="#0000ff"/>
<rect x="1298.0" y="2527.3" width="11.0" height="62.6" fill="#0000ff"/>
<rect x="1310.4" y="2497.8" width="11.0" height="92.1" fill="#0000ff"/>
<rect x="1322.7" y="2496.3" width="11.0" height="93.6" fill="#0000ff"/>
<rect x="1335.1" y="2317.2" width="11.0" height="272.7" fill="#ff0000"/>
<rect x="1347.5" y="2391.4" width="11.0" height="198.5" fill="#ff0000"/>
<rect x="1359.8" y="2365.6" width="11.0" height="224.3" fill="#ff0000"/>
<rect x="1372.2" y="2363.3" width="11.0" height="226.6" fill="#ff0000"/>
<rect x="1384.6" y="2263.1" width="11.0" height="326.8" fill="#ff0000"/>
<rect x="1397.0" y="2367.7" width="11.0" height="222.2" fill="#ff0000"/>
<rect x="1409.3" y="2406.9" width="11.0" height="183.0" fill="#ff0000"/>
<rect x="1421.7" y="2284.3" width="11.0" height="305.6" fill="#ff0000"/>
<rect x="1434.1" y="2288.4" width="11.0" height="301.5" fill="#ff0000"/>
<rect x="1446.4" y="2360.8" width="11.0" height="229.1" fill="#ff0000"/>
<rect x="1458.8" y="2044.8" width="11.0" height="545.1" fill="#ff0000"/>
<rect x="1471.2" y="2036.8" width="11.0" height="553.1" fill="#ff0000"/>
<rect x="1483.5" y="2060.3" width="11.0" height="529.6" fill="#ff0000"/>
<rect x="1495.9" y="2031.5" width="11.0" height="558.4" fill="#ff0000"/>
<rect x="1508.3" y="2042.3" width="11.0" height="547.6" fill="#ff0000"/>
<rect x="1520.7" y="2064.4" width="11.0" height="525.5" fill="#ff0000"/>
<rect x="1533.0" y="2059.1" width="11.0" height="530.8" fill="#ff0000"/>
<rect x="1545.4" y="2077.6" width="11.0" height="512.3" fill="#ff0000"/>
<rect x="1557.8" y="2047.6" width="11.0" height="542.3" fill="#ff0000"/>
<rect x="1570.1" y="2041.8" width="11.0" height="548.1" fill="#ff0000"/>
<rect x="1582.5" y="1984.7" width="11.0" height="605.2" fill="#ff0000"/>
<rect x="1594.9" y="2013.0" width="11.0" height="576.9" fill="#ff0000"/>
<rect x="1607.3" y="2029.2" width="11.0" height="560.7" fill="#ff0000"/>
<rect x="1619.6" y="1998.1" width="11.0" height="591.8" fill="#ff0000"/>
<rect x="1632.0" y="2004.5" width="11.0" height="585.4" fill="#ff0000"/>
<rect x="1644.4" y="2029.9" width="11.0" height="560.0" fill="#ff0000"/>
<rect x="1656.7" y="2023.0" width="11.0" height="566.9" fill="#ff0000"/>
<rect x="1669.1" y="2020.6" width="11.0" height="569.3" fill="#ff0000"/>
<rect x="1681.5" y="1998.8" width="11.0" height="591.1" fill="#ff0000"/>
<rect x="1693.8" y="2031.5" width="11.0" height="558.4" fill="#ff0000"/>
<rect x="1706.2" y="1945.1" width="11.0" height="644.8" fill="#ff0000"/>
<rect x="1718.6" y="1945.1" width="11.0" height="644.8" fill="#ff0000"/>
<rect x="1731.0" y="1932.9" width="11.0" height="657.0" fill="#ff0000"/>
<rect x="1743.3" y="1950.8" width="11.0" height="639.1" fill="#ff0000"/>
<rect x="1755.7" y="1946.2" width="11.0" height="643.7" fill="#ff0000"/>
<rect x="1768.1" y="1953.8" width="11.0" height="636.1" fill="#ff0000"/>
<rect x="1780.4" y="1944.4" width="11.0" height="645.5" fill="#ff0000"/>
<rect x="1792.8" y="1949.7" width="11.0" height="640.2" fill="#ff0000"/>
<rect x="1805.2" y="1946.2" width="11.0" height="643.7" fill="#ff0000"/>
<rect x="1817.5" y="1952.0" width="11.0" height="637.9" fill="#ff0000"/>
<rect x="1829.9" y="1902.6" width="11.0" height="687.3" fill="#ff0000"/>
<rect x="1842.3" y="1891.5" width="11.0" height="698.4" fill="#ff0000"/>
<rect x="1854.7" y="1900.3" width="11.0" height="689.6" fill="#ff0000"/>
<rect x="1867.0" y="1898.0" width="11.0" height="691.9" fill="#ff0000"/>
<rect x="1879.4" y="1902.6" width="11.0" height="687.3" fill="#ff0000"/>
<rect x="1891.8" y="1906.1" width="11.0" height="683.8" fill="#ff0000"/>
<rect x="1904.1" y="1901.5" width="11.0" height="688.4" fill="#ff0000"/>
<rect x="1916.5" y="1894.6" width="11.0" height="695.3" fill="#ff0000"/>
<rect x="1928.9" y="1910.9" width="11.0" height="679.0" fill="#ff0000"/>
<rect x="1941.3" y="1897.5" width="11.0" height="692.4" fill="#ff0000"/>
<rect x="1953.6" y="2306.6" width="11.0" height="283.3" fill="#ff0000"/>
<rect x="1966.0" y="2355.0" width="11.0" height="234.9" fill="#ff0000"/>
<rect x="1978.4" y="2343.5" width="11.0" height="246.4" fill="#ff0000"/>
<rect x="1990.7" y="2287.7" width="11.0" height="302.2" fill="#ff0000"/>
<rect x="2003.1" y="2382.6" width="11.0" height="207.3" fill="#ff0000"/>
<rect x="2015.5" y="2300.8" width="11.0" height="289.1" fill="#ff0000"/>
<rect x="2027.8" y="2477.1" width="11.0" height="112.8" fill="#ff0000"/>
<rect x="2040.2" y="2311.7" width="11.0" height="278.2" fill="#ff0000"/>
<rect x="2052.6" y="2278.9" width="11.0" height="311.0" fill="#ff0000"/>
<rect x="2065.0" y="2466.7" width="11.0" height="123.2" fill="#ff0000"/>
<rect x="2077.3" y="2237.9" width="11.0" height="352.0" fill="#ff0000"/>
<rect x="2089.7" y="2355.0" width="11.0" height="234.9" fill="#ff0000"/>
<rect x="2102.1" y="2399.2" width="11.0" height="190.7" fill="#ff0000"/>
<rect x="2114.4" y="2379.9" width="11.0" height="210.0" fill="#ff0000"/>
<rect x="2126.8" y="2359.6" width="11.0" height="230.3" fill="#ff0000"/>
<rect x="2139.2" y="2444.4" width="11.0" height="145.5" fill="#ff0000"/>
<rect x="2151.5" y="2327.3" width="11.0" height="262.6" fill="#ff0000"/>
<rect x="2163.9" y="2289.3" width="11.0" height="300.6" fill="#ff0000"/>
<rect x="2176.3" y="2358.9" width="11.0" height="231.0" fill="#ff0000"/>
<rect x="2188.7" y="2264.0" width="11.0" height="325.9" fill="#ff0000"/>
<rect x="2201.0" y="1968.2" width="11.0" height="621.7" fill="#ff0000"/>
<rect x="2213.4" y="1973.3" width="11.0" height="616.6" fill="#ff0000"/>
<rect x="2225.8" y="1960.1" width="11.0" height="629.8" fill="#ff0000"/>
<rect x="2238.1" y="1957.2" width="11.0" height="632.7" fill="#ff0000"/>
<rect x="2250.5" y="1973.3" width="11.0" height="616.6" fill="#ff0000"/>
<rect x="2262.9" y="1950.9" width="11.0" height="639.0" fill="#ff0000"/>
<rect x="2275.2" y="1959.5" width="11.0" height="630.4" fill="#ff0000"/>
<rect x="2287.6" y="1971.0" width="11.0" height="618.9" fill="#ff0000"/>
<rect x="2300.0" y="1958.4" width="11.0" height="631.5" fill="#ff0000"/>
<rect x="2312.4" y="1939.4" width="11.0" height="650.5" fill="#ff0000"/>
</g>
<line x1="226.3" y1="2491.5" x2="2315.7" y2="2491.5" stroke="#151515" stroke-opacity="0.93" stroke-width="6" stroke-dasharray="20 13.94"/>
<line x1="342.8" y1="1536.0" x2="342.8" y2="2586.8" stroke="#0d0d0d" stroke-width="5.5" stroke-dasharray="15 1.6 2.4 1.6"/>
<line x1="466.5" y1="1536.0" x2="466.5" y2="2586.8" stroke="#0d0d0d" stroke-width="5.5" stroke-dasharray="15 1.6 2.4 1.6"/>
<line x1="590.3" y1="1536.0" x2="590.3" y2="2586.8" stroke="#0d0d0d" stroke-width="5.5" stroke-dasharray="15 1.6 2.4 1.6"/>
<line x1="714.1" y1="1536.0" x2="714.1" y2="2586.8" stroke="#0d0d0d" stroke-width="5.5" stroke-dasharray="15 1.6 2.4 1.6"/>
<line x1="837.9" y1="1536.0" x2="837.9" y2="2586.8" stroke="#0d0d0d" stroke-width="5.5" stroke-dasharray="15 1.6 2.4 1.6"/>
<line x1="961.7" y1="1536.0" x2="961.7" y2="2586.8" stroke="#0d0d0d" stroke-width="5.5" stroke-dasharray="15 1.6 2.4 1.6"/>
<line x1="1085.4" y1="1536.0" x2="1085.4" y2="2586.8" stroke="#0d0d0d" stroke-width="5.5" stroke-dasharray="15 1.6 2.4 1.6"/>
<line x1="1209.2" y1="1536.0" x2="1209.2" y2="2586.8" stroke="#0d0d0d" stroke-width="5.5" stroke-dasharray="15 1.6 2.4 1.6"/>
<line x1="1333.0" y1="1536.0" x2="1333.0" y2="2586.8" stroke="#0d0d0d" stroke-width="5.5" stroke-dasharray="15 1.6 2.4 1.6"/>
<line x1="1456.8" y1="1536.0" x2="1456.8" y2="2586.8" stroke="#0d0d0d" stroke-width="5.5" stroke-dasharray="15 1.6 2.4 1.6"/>
<line x1="1580.6" y1="1536.0" x2="1580.6" y2="2586.8" stroke="#0d0d0d" stroke-width="5.5" stroke-dasharray="15 1.6 2.4 1.6"/>
<line x1="1704.3" y1="1536.0" x2="1704.3" y2="2586.8" stroke="#0d0d0d" stroke-width="5.5" stroke-dasharray="15 1.6 2.4 1.6"/>
<line x1="1828.1" y1="1536.0" x2="1828.1" y2="2586.8" stroke="#0d0d0d" stroke-width="5.5" stroke-dasharray="15 1.6 2.4 1.6"/>
<line x1="1951.9" y1="1536.0" x2="1951.9" y2="2586.8" stroke="#0d0d0d" stroke-width="5.5" stroke-dasharray="15 1.6 2.4 1.6"/>
<line x1="2075.7" y1="1536.0" x2="2075.7" y2="2586.8" stroke="#0d0d0d" stroke-width="5.5" stroke-dasharray="15 1.6 2.4 1.6"/>
<line x1="2199.5" y1="1536.0" x2="2199.5" y2="2586.8" stroke="#0d0d0d" stroke-width="5.5" stroke-dasharray="15 1.6 2.4 1.6"/>
<line x1="213.4" y1="1508.3" x2="213.4" y2="2586.3" stroke="#858585" stroke-width="2.2"/>
<line x1="212.4" y1="2585.3" x2="2317.7" y2="2585.3" stroke="#858585" stroke-width="2.6"/>
<line x1="213.4" y1="2569.6" x2="223.9" y2="2569.6" stroke="#8a8a8a" stroke-width="2.2"/>
<line x1="213.4" y1="2556.7" x2="223.9" y2="2556.7" stroke="#8a8a8a" stroke-width="2.2"/>
<line x1="213.4" y1="2545.6" x2="223.9" y2="2545.6" stroke="#8a8a8a" stroke-width="2.2"/>
<line x1="213.4" y1="2535.8" x2="223.9" y2="2535.8" stroke="#8a8a8a" stroke-width="2.2"/>
<line x1="213.4" y1="2527.0" x2="234.4" y2="2527.0" stroke="#8a8a8a" stroke-width="2.2"/>
<line x1="213.4" y1="2469.2" x2="223.9" y2="2469.2" stroke="#8a8a8a" stroke-width="2.2"/>
<line x1="213.4" y1="2435.4" x2="223.9" y2="2435.4" stroke="#8a8a8a" stroke-width="2.2"/>
<line x1="213.4" y1="2411.4" x2="223.9" y2="2411.4" stroke="#8a8a8a" stroke-width="2.2"/>
<line x1="213.4" y1="2392.8" x2="223.9" y2="2392.8" stroke="#8a8a8a" stroke-width="2.2"/>
<line x1="213.4" y1="2377.6" x2="223.9" y2="2377.6" stroke="#8a8a8a" stroke-width="2.2"/>
<line x1="213.4" y1="2364.7" x2="223.9" y2="2364.7" stroke="#8a8a8a" stroke-width="2.2"/>
<line x1="213.4" y1="2353.6" x2="223.9" y2="2353.6" stroke="#8a8a8a" stroke-width="2.2"/>
<line x1="213.4" y1="2343.8" x2="223.9" y2="2343.8" stroke="#8a8a8a" stroke-width="2.2"/>
<line x1="213.4" y1="2335.0" x2="234.4" y2="2335.0" stroke="#8a8a8a" stroke-width="2.2"/>
<line x1="213.4" y1="2277.2" x2="223.9" y2="2277.2" stroke="#8a8a8a" stroke-width="2.2"/>
<line x1="213.4" y1="2243.4" x2="223.9" y2="2243.4" stroke="#8a8a8a" stroke-width="2.2"/>
<line x1="213.4" y1="2219.4" x2="223.9" y2="2219.4" stroke="#8a8a8a" stroke-width="2.2"/>
<line x1="213.4" y1="2200.8" x2="223.9" y2="2200.8" stroke="#8a8a8a" stroke-width="2.2"/>
<line x1="213.4" y1="2185.6" x2="223.9" y2="2185.6" stroke="#8a8a8a" stroke-width="2.2"/>
<line x1="213.4" y1="2172.7" x2="223.9" y2="2172.7" stroke="#8a8a8a" stroke-width="2.2"/>
<line x1="213.4" y1="2161.6" x2="223.9" y2="2161.6" stroke="#8a8a8a" stroke-width="2.2"/>
<line x1="213.4" y1="2151.8" x2="223.9" y2="2151.8" stroke="#8a8a8a" stroke-width="2.2"/>
<line x1="213.4" y1="2143.0" x2="234.4" y2="2143.0" stroke="#8a8a8a" stroke-width="2.2"/>
<line x1="213.4" y1="2085.2" x2="223.9" y2="2085.2" stroke="#8a8a8a" stroke-width="2.2"/>
<line x1="213.4" y1="2051.4" x2="223.9" y2="2051.4" stroke="#8a8a8a" stroke-width="2.2"/>
<line x1="213.4" y1="2027.4" x2="223.9" y2="2027.4" stroke="#8a8a8a" stroke-width="2.2"/>
<line x1="213.4" y1="2008.8" x2="223.9" y2="2008.8" stroke="#8a8a8a" stroke-width="2.2"/>
<line x1="213.4" y1="1993.6" x2="223.9" y2="1993.6" stroke="#8a8a8a" stroke-width="2.2"/>
<line x1="213.4" y1="1980.7" x2="223.9" y2="1980.7" stroke="#8a8a8a" stroke-width="2.2"/>
<line x1="213.4" y1="1969.6" x2="223.9" y2="1969.6" stroke="#8a8a8a" stroke-width="2.2"/>
<line x1="213.4" y1="1959.8" x2="223.9" y2="1959.8" stroke="#8a8a8a" stroke-width="2.2"/>
<line x1="213.4" y1="1951.0" x2="234.4" y2="1951.0" stroke="#8a8a8a" stroke-width="2.2"/>
<line x1="213.4" y1="1893.2" x2="223.9" y2="1893.2" stroke="#8a8a8a" stroke-width="2.2"/>
<line x1="213.4" y1="1859.4" x2="223.9" y2="1859.4" stroke="#8a8a8a" stroke-width="2.2"/>
<line x1="213.4" y1="1835.4" x2="223.9" y2="1835.4" stroke="#8a8a8a" stroke-width="2.2"/>
<line x1="213.4" y1="1816.8" x2="223.9" y2="1816.8" stroke="#8a8a8a" stroke-width="2.2"/>
<line x1="213.4" y1="1801.6" x2="223.9" y2="1801.6" stroke="#8a8a8a" stroke-width="2.2"/>
<line x1="213.4" y1="1788.7" x2="223.9" y2="1788.7" stroke="#8a8a8a" stroke-width="2.2"/>
<line x1="213.4" y1="1777.6" x2="223.9" y2="1777.6" stroke="#8a8a8a" stroke-width="2.2"/>
<line x1="213.4" y1="1767.8" x2="223.9" y2="1767.8" stroke="#8a8a8a" stroke-width="2.2"/>
<line x1="213.4" y1="1759.0" x2="234.4" y2="1759.0" stroke="#8a8a8a" stroke-width="2.2"/>
<line x1="213.4" y1="1701.2" x2="223.9" y2="1701.2" stroke="#8a8a8a" stroke-width="2.2"/>
<line x1="213.4" y1="1667.4" x2="223.9" y2="1667.4" stroke="#8a8a8a" stroke-width="2.2"/>
<line x1="213.4" y1="1643.4" x2="223.9" y2="1643.4" stroke="#8a8a8a" stroke-width="2.2"/>
<line x1="213.4" y1="1624.8" x2="223.9" y2="1624.8" stroke="#8a8a8a" stroke-width="2.2"/>
<line x1="213.4" y1="1609.6" x2="223.9" y2="1609.6" stroke="#8a8a8a" stroke-width="2.2"/>
<line x1="213.4" y1="1596.7" x2="223.9" y2="1596.7" stroke="#8a8a8a" stroke-width="2.2"/>
<line x1="213.4" y1="1585.6" x2="223.9" y2="1585.6" stroke="#8a8a8a" stroke-width="2.2"/>
<line x1="213.4" y1="1575.8" x2="223.9" y2="1575.8" stroke="#8a8a8a" stroke-width="2.2"/>
<line x1="213.4" y1="1567.0" x2="234.4" y2="1567.0" stroke="#8a8a8a" stroke-width="2.2"/>
<line x1="213.4" y1="1509.2" x2="223.9" y2="1509.2" stroke="#8a8a8a" stroke-width="2.2"/>
<text x="181" y="2551.0" text-anchor="end" font-family="'Liberation Sans', Arial, sans-serif" font-size="41" fill="#404040">10</text>
<text x="182" y="2529.0" text-anchor="start" font-family="'Liberation Sans', Arial, sans-serif" font-size="29" fill="#404040">0</text>
<text x="181" y="2359.0" text-anchor="end" font-family="'Liberation Sans', Arial, sans-serif" font-size="41" fill="#404040">10</text>
<text x="182" y="2337.0" text-anchor="start" font-family="'Liberation Sans', Arial, sans-serif" font-size="29" fill="#404040">1</text>
<text x="181" y="2167.0" text-anchor="end" font-family="'Liberation Sans', Arial, sans-serif" font-size="41" fill="#404040">10</text>
<text x="182" y="2145.0" text-anchor="start" font-family="'Liberation Sans', Arial, sans-serif" font-size="29" fill="#404040">2</text>
<text x="181" y="1975.0" text-anchor="end" font-family="'Liberation Sans', Arial, sans-serif" font-size="41" fill="#404040">10</text>
<text x="182" y="1953.0" text-anchor="start" font-family="'Liberation Sans', Arial, sans-serif" font-size="29" fill="#404040">3</text>
<text x="181" y="1783.0" text-anchor="end" font-family="'Liberation Sans', Arial, sans-serif" font-size="41" fill="#404040">10</text>
<text x="182" y="1761.0" text-anchor="start" font-family="'Liberation Sans', Arial, sans-serif" font-size="29" fill="#404040">4</text>
<text x="181" y="1591.0" text-anchor="end" font-family="'Liberation Sans', Arial, sans-serif" font-size="41" fill="#404040">10</text>
<text x="182" y="1569.0" text-anchor="start" font-family="'Liberation Sans', Arial, sans-serif" font-size="29" fill="#404040">5</text>
<text x="213.4" y="2642.5" text-anchor="middle" font-family="'Liberation Sans', Arial, sans-serif" font-size="41" fill="#404040">0</text>
<text x="461.0" y="2642.5" text-anchor="middle" font-family="'Liberation Sans', Arial, sans-serif" font-size="41" fill="#404040">20</text>
<text x="708.5" y="2642.5" text-anchor="middle" font-family="'Liberation Sans', Arial, sans-serif" font-size="41" fill="#404040">40</text>
<text x="956.1" y="2642.5" text-anchor="middle" font-family="'Liberation Sans', Arial, sans-serif" font-size="41" fill="#404040">60</text>
<text x="1203.6" y="2642.5" text-anchor="middle" font-family="'Liberation Sans', Arial, sans-serif" font-size="41" fill="#404040">80</text>
<text x="1451.2" y="2642.5" text-anchor="middle" font-family="'Liberation Sans', Arial, sans-serif" font-size="41" fill="#404040">100</text>
<text x="1698.8" y="2642.5" text-anchor="middle" font-family="'Liberation Sans', Arial, sans-serif" font-size="41" fill="#404040">120</text>
<text x="1946.3" y="2642.5" text-anchor="middle" font-family="'Liberation Sans', Arial, sans-serif" font-size="41" fill="#404040">140</text>
<text x="2193.9" y="2642.5" text-anchor="middle" font-family="'Liberation Sans', Arial, sans-serif" font-size="41" fill="#404040">160</text>
<text x="1265.5" y="2703.0" text-anchor="middle" font-family="'Liberation Sans', Arial, sans-serif" font-size="47" fill="#404040">States</text>
<text transform="translate(55.0,2046.0) rotate(-90)" text-anchor="middle" font-family="'Liberation Sans', Arial, sans-serif" font-size="46.6" fill="#404040">Damage</text>
<text transform="translate(115.0,2046.0) rotate(-90)" text-anchor="middle" font-family="'Liberation Sans', Arial, sans-serif" font-size="46.6" fill="#404040">Index Magnitude</text>
<text x="1265.5" y="1490.0" text-anchor="middle" font-family="'Liberation Sans', Arial, sans-serif" font-size="46.3" font-weight="bold" fill="#111111">Classic MFCCs</text>
<rect x="260.4" y="1618.2" width="33.5" height="53.0" fill="#ffffff" stroke="#707070" stroke-width="2"/>
<text x="277.1" y="1656.7" text-anchor="middle" font-family="'Liberation Sans', Arial, sans-serif" font-size="31" fill="#262626">1</text>
<rect x="384.2" y="1618.2" width="33.5" height="53.0" fill="#ffffff" stroke="#707070" stroke-width="2"/>
<text x="400.9" y="1656.7" text-anchor="middle" font-family="'Liberation Sans', Arial, sans-serif" font-size="31" fill="#262626">2</text>
<rect x="507.9" y="1618.2" width="33.5" height="53.0" fill="#ffffff" stroke="#707070" stroke-width="2"/>
<text x="524.7" y="1656.7" text-anchor="middle" font-family="'Liberation Sans', Arial, sans-serif" font-size="31" fill="#262626">3</text>
<rect x="631.7" y="1618.2" width="33.5" height="53.0" fill="#ffffff" stroke="#707070" stroke-width="2"/>
<text x="648.4" y="1656.7" text-anchor="middle" font-family="'Liberation Sans', Arial, sans-serif" font-size="31" fill="#262626">4</text>
<rect x="755.4" y="1618.2" width="33.5" height="53.0" fill="#ffffff" stroke="#707070" stroke-width="2"/>
<text x="772.2" y="1656.7" text-anchor="middle" font-family="'Liberation Sans', Arial, sans-serif" font-size="31" fill="#262626">5</text>
<rect x="879.2" y="1618.2" width="33.5" height="53.0" fill="#ffffff" stroke="#707070" stroke-width="2"/>
<text x="896.0" y="1656.7" text-anchor="middle" font-family="'Liberation Sans', Arial, sans-serif" font-size="31" fill="#262626">6</text>
<rect x="1003.0" y="1618.2" width="33.5" height="53.0" fill="#ffffff" stroke="#707070" stroke-width="2"/>
<text x="1019.7" y="1656.7" text-anchor="middle" font-family="'Liberation Sans', Arial, sans-serif" font-size="31" fill="#262626">7</text>
<rect x="1126.7" y="1618.2" width="33.5" height="53.0" fill="#ffffff" stroke="#707070" stroke-width="2"/>
<text x="1143.5" y="1656.7" text-anchor="middle" font-family="'Liberation Sans', Arial, sans-serif" font-size="31" fill="#262626">8</text>
<rect x="1250.5" y="1618.2" width="33.5" height="53.0" fill="#ffffff" stroke="#707070" stroke-width="2"/>
<text x="1267.2" y="1656.7" text-anchor="middle" font-family="'Liberation Sans', Arial, sans-serif" font-size="31" fill="#262626">9</text>
<rect x="1374.2" y="1618.2" width="50.5" height="53.0" fill="#ffffff" stroke="#707070" stroke-width="2"/>
<text x="1399.5" y="1656.7" text-anchor="middle" font-family="'Liberation Sans', Arial, sans-serif" font-size="31" fill="#262626">10</text>
<rect x="1498.0" y="1618.2" width="50.5" height="53.0" fill="#ffffff" stroke="#707070" stroke-width="2"/>
<text x="1523.2" y="1656.7" text-anchor="middle" font-family="'Liberation Sans', Arial, sans-serif" font-size="31" fill="#262626">11</text>
<rect x="1621.8" y="1618.2" width="50.5" height="53.0" fill="#ffffff" stroke="#707070" stroke-width="2"/>
<text x="1647.0" y="1656.7" text-anchor="middle" font-family="'Liberation Sans', Arial, sans-serif" font-size="31" fill="#262626">12</text>
<rect x="1745.5" y="1618.2" width="50.5" height="53.0" fill="#ffffff" stroke="#707070" stroke-width="2"/>
<text x="1770.8" y="1656.7" text-anchor="middle" font-family="'Liberation Sans', Arial, sans-serif" font-size="31" fill="#262626">13</text>
<rect x="1869.3" y="1618.2" width="50.5" height="53.0" fill="#ffffff" stroke="#707070" stroke-width="2"/>
<text x="1894.5" y="1656.7" text-anchor="middle" font-family="'Liberation Sans', Arial, sans-serif" font-size="31" fill="#262626">14</text>
<rect x="1993.0" y="1618.2" width="50.5" height="53.0" fill="#ffffff" stroke="#707070" stroke-width="2"/>
<text x="2018.3" y="1656.7" text-anchor="middle" font-family="'Liberation Sans', Arial, sans-serif" font-size="31" fill="#262626">15</text>
<rect x="2116.8" y="1618.2" width="50.5" height="53.0" fill="#ffffff" stroke="#707070" stroke-width="2"/>
<text x="2142.1" y="1656.7" text-anchor="middle" font-family="'Liberation Sans', Arial, sans-serif" font-size="31" fill="#262626">16</text>
<rect x="2240.6" y="1618.2" width="50.5" height="53.0" fill="#ffffff" stroke="#707070" stroke-width="2"/>
<text x="2265.8" y="1656.7" text-anchor="middle" font-family="'Liberation Sans', Arial, sans-serif" font-size="31" fill="#262626">17</text>
</g>
<text x="1217" y="1383" text-anchor="middle" font-family="'Liberation Serif', 'Times New Roman', serif" font-size="82" fill="#000000">(<tspan font-weight="bold">a</tspan>)</text>
<text x="1218" y="2820.5" text-anchor="middle" font-family="'Liberation Serif', 'Times New Roman', serif" font-size="84" fill="#000000">(<tspan font-weight="bold">b</tspan>)</text>
</svg>
</body>
</html>
